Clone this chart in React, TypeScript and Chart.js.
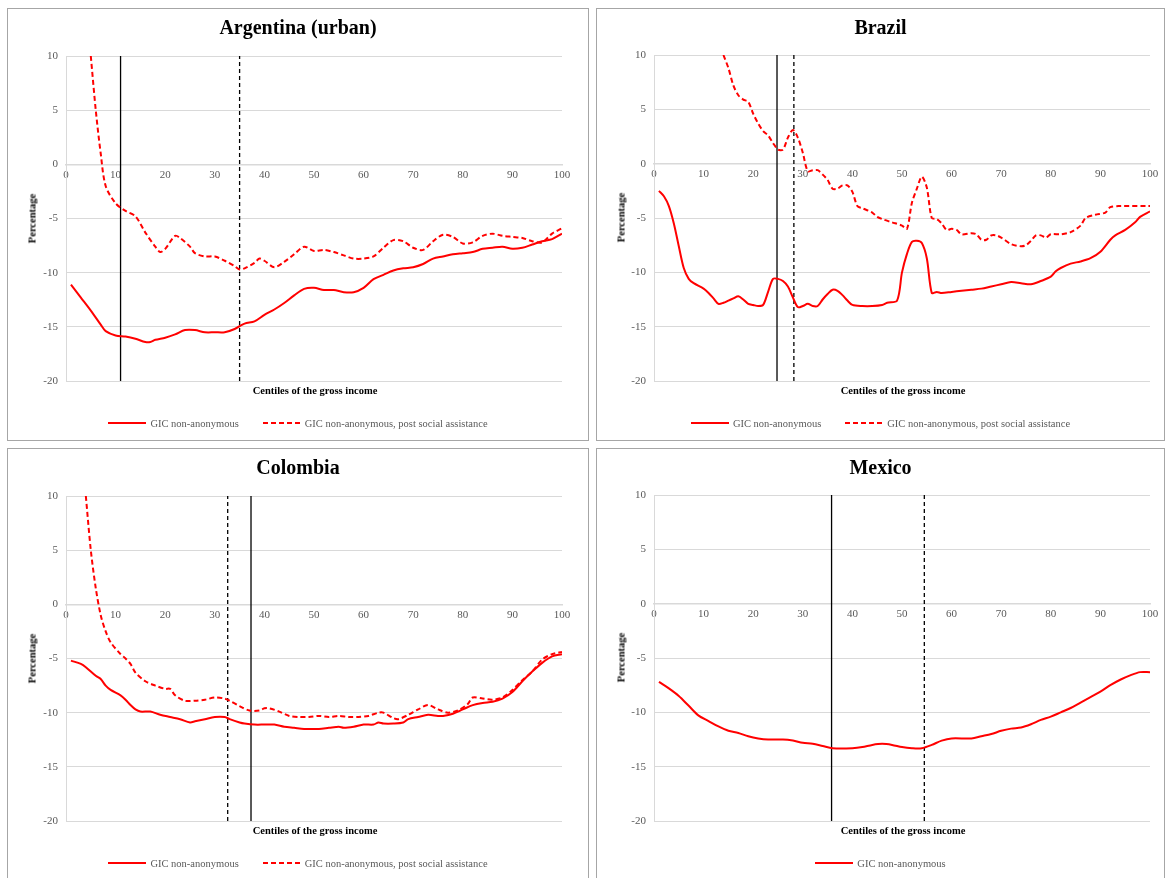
import React, { useRef, useEffect } from 'react';
import { Chart, registerables } from 'chart.js';

Chart.register(...registerables);

// Argentina (urban)
const argX = [1, 3, 5, 7, 8, 10, 12, 14, 16, 17, 18, 20, 22, 24, 26, 28, 30, 32, 34, 36, 38, 40, 42, 44, 46, 48, 50, 52, 54, 56, 58, 60, 62, 64, 66, 68, 70, 72, 74, 76, 78, 80, 82, 84, 86, 88, 90, 92, 94, 96, 98, 100];
const argGic = [-11.1, -12.3, -13.5, -14.8, -15.4, -15.8, -15.9, -16.1, -16.4, -16.4, -16.2, -16.0, -15.7, -15.3, -15.3, -15.5, -15.5, -15.5, -15.2, -14.7, -14.5, -13.9, -13.4, -12.8, -12.1, -11.5, -11.4, -11.6, -11.6, -11.8, -11.8, -11.4, -10.6, -10.2, -9.8, -9.6, -9.5, -9.2, -8.7, -8.5, -8.3, -8.2, -8.1, -7.8, -7.7, -7.6, -7.8, -7.7, -7.4, -7.1, -6.9, -6.4];
const argPostX = [5, 6, 7, 8, 10, 12, 14, 16, 18, 19, 20, 22, 23, 25, 26, 28, 30, 32, 34, 35, 36, 38, 39, 40, 42, 44, 46, 48, 50, 52, 54, 56, 58, 60, 62, 64, 66, 68, 70, 72, 74, 76, 78, 80, 82, 84, 86, 88, 90, 92, 94, 96, 98, 100];
const argPost = [10, 5, 1, -2, -3.6, -4.3, -4.8, -6.3, -7.6, -8.1, -7.8, -6.6, -6.8, -7.6, -8.2, -8.5, -8.5, -8.9, -9.4, -9.7, -9.6, -9.1, -8.7, -8.9, -9.5, -9.0, -8.3, -7.6, -8.0, -7.9, -8.1, -8.4, -8.7, -8.7, -8.5, -7.7, -7.0, -7.1, -7.7, -7.9, -7.1, -6.5, -6.7, -7.3, -7.2, -6.6, -6.4, -6.6, -6.7, -6.8, -7.1, -7.2, -6.4, -5.9];
const argLines = [11, 35];

// Brazil
const braX = [1, 2, 3, 4, 5, 6, 7, 8, 10, 11, 12, 13, 14, 15, 16, 17, 18, 19, 20, 21, 22, 23, 24, 25, 26, 27, 28, 29, 30, 31, 32, 33, 34, 35, 36, 37, 38, 39, 40, 42, 44, 46, 47, 49, 50, 51, 52, 53, 54, 55, 56, 57, 58, 60, 62, 64, 66, 68, 70, 72, 74, 76, 78, 80, 81, 82, 84, 86, 88, 90, 92, 93, 95, 97, 98, 100];
const braGic = [-2.5, -3.0, -3.9, -5.5, -7.6, -9.6, -10.6, -11.0, -11.5, -11.9, -12.4, -12.9, -12.8, -12.6, -12.4, -12.2, -12.5, -12.9, -13.0, -13.1, -13.0, -11.8, -10.6, -10.6, -10.8, -11.3, -12.3, -13.2, -13.1, -12.9, -13.1, -13.1, -12.5, -12.0, -11.6, -11.7, -12.1, -12.6, -13.0, -13.1, -13.1, -13.0, -12.8, -12.6, -10.0, -8.3, -7.2, -7.1, -7.3, -8.7, -11.9, -11.8, -11.9, -11.8, -11.7, -11.6, -11.5, -11.3, -11.1, -10.9, -11.0, -11.1, -10.8, -10.4, -9.9, -9.6, -9.2, -9.0, -8.7, -8.1, -7.0, -6.6, -6.1, -5.4, -4.9, -4.4];
const braPostX = [14, 15, 16, 17, 18, 19, 20, 21, 22, 23, 24, 25, 26, 27, 28, 29, 30, 31, 32, 33, 34, 35, 36, 37, 38, 39, 40, 41, 42, 44, 45, 46, 48, 50, 51, 52, 53, 54, 55, 56, 57, 58, 59, 60, 61, 62, 64, 65, 66, 67, 68, 69, 70, 72, 74, 75, 76, 77, 78, 79, 80, 82, 84, 86, 87, 89, 91, 92, 94, 100];
const braPost = [10, 8.8, 7.2, 6.3, 5.9, 5.7, 4.6, 3.7, 3.0, 2.6, 1.9, 1.3, 1.3, 2.4, 3.1, 2.4, 1.0, -0.7, -0.6, -0.6, -1.0, -1.5, -2.3, -2.3, -2.0, -2.0, -2.6, -3.9, -4.1, -4.5, -4.9, -5.1, -5.4, -5.7, -6.0, -3.6, -2.3, -1.2, -2.2, -5.0, -5.1, -5.5, -6.1, -6.0, -6.1, -6.5, -6.4, -6.5, -7.0, -7.0, -6.6, -6.6, -6.8, -7.4, -7.6, -7.5, -7.1, -6.6, -6.6, -6.8, -6.5, -6.5, -6.3, -5.7, -5.0, -4.7, -4.5, -4.0, -3.9, -3.9];
const braLines = [24.8, 28.2];

// Colombia
const colX = [1, 3, 4, 6, 7, 8, 9, 11, 12, 13, 14, 15, 17, 19, 21, 23, 25, 26, 28, 30, 32, 33, 35, 36, 38, 40, 42, 44, 46, 48, 50, 51, 53, 55, 56, 58, 60, 62, 63, 64, 66, 68, 69, 71, 73, 75, 76, 78, 80, 82, 84, 86, 88, 90, 92, 94, 96, 98, 100];
const colGic = [-5.2, -5.5, -5.8, -6.6, -6.9, -7.5, -7.9, -8.4, -8.8, -9.3, -9.7, -9.9, -9.9, -10.2, -10.4, -10.6, -10.9, -10.8, -10.6, -10.4, -10.4, -10.6, -10.9, -11.0, -11.1, -11.1, -11.1, -11.3, -11.4, -11.5, -11.5, -11.5, -11.4, -11.3, -11.4, -11.3, -11.1, -11.1, -10.9, -11.0, -11.0, -10.9, -10.6, -10.4, -10.2, -10.3, -10.3, -10.1, -9.7, -9.3, -9.1, -9.0, -8.7, -8.1, -7.1, -6.2, -5.4, -4.8, -4.6];
const colPostX = [4, 5, 6, 7, 8, 9, 11, 12, 13, 14, 16, 18, 20, 21, 22, 24, 26, 28, 30, 32, 33, 35, 37, 39, 40, 41, 43, 45, 47, 49, 51, 53, 55, 57, 59, 61, 63, 64, 66, 67, 69, 71, 73, 75, 77, 79, 81, 82, 84, 86, 88, 90, 92, 94, 96, 98, 100];
const colPost = [10, 5, 1.5, -1.0, -2.5, -3.5, -4.6, -5.0, -5.5, -6.3, -7.1, -7.5, -7.8, -7.8, -8.4, -8.9, -8.9, -8.8, -8.6, -8.7, -8.9, -9.4, -9.8, -9.8, -9.6, -9.6, -9.9, -10.3, -10.4, -10.4, -10.3, -10.4, -10.3, -10.4, -10.4, -10.3, -10.0, -10.0, -10.5, -10.6, -10.2, -9.7, -9.3, -9.7, -10.0, -9.8, -9.2, -8.6, -8.7, -8.8, -8.6, -7.9, -7.0, -6.2, -5.1, -4.6, -4.4];
const colLines = [37.3, 32.6];

// Mexico
const mexX = [1, 3, 5, 7, 9, 11, 13, 15, 17, 19, 21, 23, 26, 28, 30, 32, 34, 36, 40, 42, 44, 46, 48, 50, 52, 54, 56, 58, 60, 64, 66, 68, 70, 72, 74, 76, 78, 80, 82, 84, 86, 88, 90, 92, 94, 96, 98, 100];
const mexGic = [-7.2, -7.8, -8.5, -9.4, -10.3, -10.8, -11.3, -11.7, -11.9, -12.2, -12.4, -12.5, -12.5, -12.6, -12.8, -12.9, -13.1, -13.3, -13.3, -13.2, -13.0, -12.9, -13.0, -13.2, -13.3, -13.3, -13.0, -12.6, -12.4, -12.4, -12.2, -12.0, -11.7, -11.5, -11.4, -11.1, -10.7, -10.4, -10.0, -9.6, -9.1, -8.6, -8.1, -7.5, -7.0, -6.6, -6.3, -6.3];
const mexLines = [35.8, 54.5];

const GREY = '#595959';
const SERIF = "'Liberation Serif', 'DejaVu Serif', serif";

type PanelProps = {
  title: string;
  left: number; top: number; width: number; height: number;
  plot: { l: number; r: number; t: number; b: number };
  gx: number[]; gy: number[];
  px?: number[]; py?: number[];
  lines: number[]; // [solid, dashed]
};

const pts = (xs: number[], ys: number[]) => xs.map((x, i) => ({ x, y: ys[i] }));

const Panel: React.FC<PanelProps> = ({ title, left, top, width, height, plot, gx, gy, px, py, lines }) => {
  const ref = useRef<HTMLCanvasElement | null>(null);

  useEffect(() => {
    if (!ref.current) return;
    const datasets: any[] = [
      { data: pts(gx, gy), borderColor: '#ff0000', borderWidth: 2, pointRadius: 0, tension: 0.3 },
    ];
    if (px && py) {
      datasets.push({ data: pts(px, py), borderColor: '#ff0000', borderWidth: 2, borderDash: [5, 3], pointRadius: 0, tension: 0.3 });
    }
    datasets.push({ data: [{ x: lines[0], y: -20 }, { x: lines[0], y: 10 }], borderColor: '#000', borderWidth: 1.3, pointRadius: 0 });
    datasets.push({ data: [{ x: lines[1], y: -20 }, { x: lines[1], y: 10 }], borderColor: '#000', borderWidth: 1.3, borderDash: [4, 3], pointRadius: 0 });

    const chart = new Chart(ref.current, {
      type: 'line',
      data: { datasets },
      options: {
        animation: false,
        responsive: false,
        layout: { padding: { left: 0, top: plot.t, right: width - plot.r, bottom: height - plot.b } },
        plugins: { legend: { display: false }, tooltip: { enabled: false } },
        scales: {
          x: {
            type: 'linear', min: 0, max: 100, position: { y: 0 } as any,
            grid: { display: false, drawTicks: false },
            border: { color: '#d9d9d9', width: 1.5 },
            ticks: { stepSize: 10, color: GREY, font: { family: SERIF, size: 11 }, padding: 4, maxRotation: 0 },
          },
          y: {
            min: -20, max: 10,
            grid: { color: '#d9d9d9', drawTicks: false },
            border: { color: '#d9d9d9' },
            ticks: { stepSize: 5, color: GREY, font: { family: SERIF, size: 11 }, padding: 8 },
            afterFit: (s: any) => { s.width = plot.l; },
          },
        },
      },
    });
    return () => chart.destroy();
  }, []);

  const legendItem = (dashed: boolean, label: string) => (
    <span style={{ display: 'inline-flex', alignItems: 'center', margin: '0 12px' }}>
      <svg width="38" height="6" style={{ marginRight: 4 }}>
        <line x1="0" y1="3" x2="38" y2="3" stroke="#ff0000" strokeWidth="2" strokeDasharray={dashed ? '5 3' : undefined} />
      </svg>
      {label}
    </span>
  );

  return (
    <div style={{ position: 'absolute', left, top, width, height, border: '1px solid #a6a6a6', boxSizing: 'border-box', background: '#fff' }}>
      <canvas ref={ref} width={width - 2} height={height - 2} style={{ position: 'absolute', left: 0, top: 0 }} />
      <div style={{ position: 'absolute', left: 0, width: '100%', top: 7, textAlign: 'center', fontFamily: SERIF, fontWeight: 'bold', fontSize: 20 }}>{title}</div>
      <div style={{ position: 'absolute', left: 24 - 40, top: (plot.t + plot.b) / 2 - 7, width: 80, textAlign: 'center', transform: 'rotate(-90deg)', fontFamily: SERIF, fontWeight: 'bold', fontSize: 10.5 }}>Percentage</div>
      <div style={{ position: 'absolute', left: plot.l, width: plot.r - plot.l, top: plot.b + 2, textAlign: 'center', fontFamily: SERIF, fontWeight: 'bold', fontSize: 10.5 }}>Centiles of the gross income</div>
      <div style={{ position: 'absolute', left: 0, width: '100%', top: height - 25, textAlign: 'center', fontFamily: SERIF, fontSize: 10.5, color: GREY }}>
        {legendItem(false, 'GIC non-anonymous')}
        {px ? legendItem(true, 'GIC non-anonymous, post social assistance') : null}
      </div>
    </div>
  );
};

export default function App() {
  const lp = { l: 58, r: 556, t: 47, b: 374 };
  const rp = { l: 57, r: 555, t: 46, b: 374 };
  return (
    <div style={{ position: 'fixed', left: 0, top: 0, width: 1165, height: 878, overflow: 'hidden', background: '#fff' }}>
      <Panel title="Argentina (urban)" left={7} top={8} width={582} height={433} plot={lp} gx={argX} gy={argGic} px={argPostX} py={argPost} lines={argLines} />
      <Panel title="Brazil" left={596} top={8} width={569} height={433} plot={rp} gx={braX} gy={braGic} px={braPostX} py={braPost} lines={braLines} />
      <Panel title="Colombia" left={7} top={448} width={582} height={433} plot={lp} gx={colX} gy={colGic} px={colPostX} py={colPost} lines={colLines} />
      <Panel title="Mexico" left={596} top={448} width={569} height={433} plot={rp} gx={mexX} gy={mexGic} lines={mexLines} />
    </div>
  );
}
